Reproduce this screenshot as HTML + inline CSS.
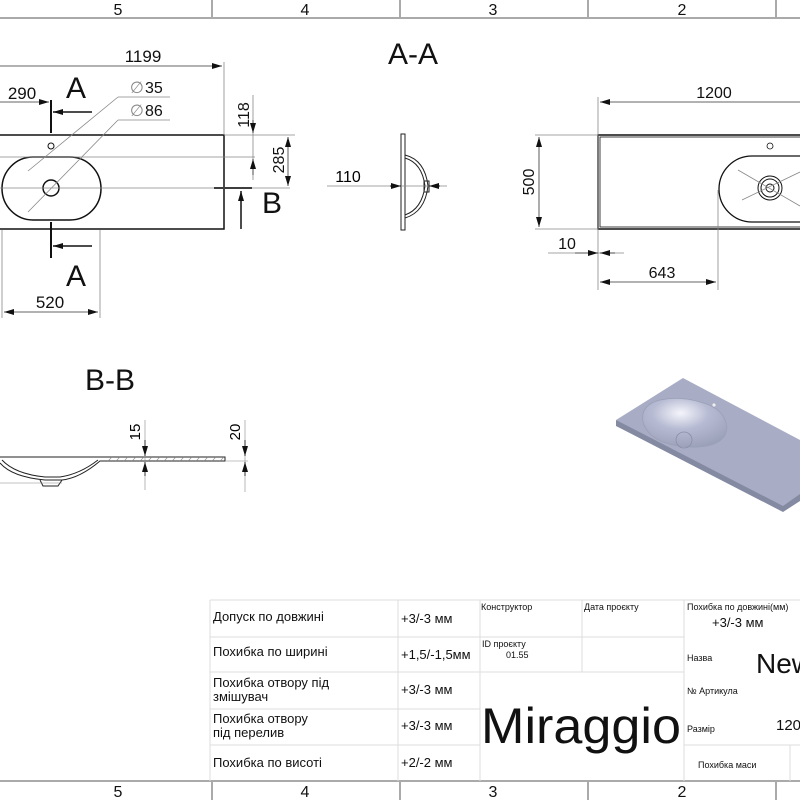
<!DOCTYPE html>
<html><head><meta charset="utf-8"><style>
body{margin:0;background:#fff}
svg{display:block}
text{font-family:"Liberation Sans","DejaVu Sans",sans-serif}
.t{font-family:"DejaVu Sans Condensed","Liberation Sans",sans-serif}
</style></head><body>
<svg width="800" height="800" viewBox="0 0 800 800" xmlns="http://www.w3.org/2000/svg">
<defs>
<marker id="a" viewBox="0 0 10 6" refX="10" refY="3" markerWidth="10" markerHeight="6" orient="auto-start-reverse" markerUnits="userSpaceOnUse"><path d="M0,0L10,3L0,6z" fill="#111"/></marker>
</defs>
<g stroke="#aaa" stroke-width="2" fill="none">
<line x1="0" y1="18" x2="800" y2="18"/><line x1="0" y1="781" x2="800" y2="781"/>
<line x1="212" y1="0" x2="212" y2="18"/><line x1="400" y1="0" x2="400" y2="18"/><line x1="588" y1="0" x2="588" y2="18"/><line x1="776" y1="0" x2="776" y2="18"/>
<line x1="212" y1="781" x2="212" y2="800"/><line x1="400" y1="781" x2="400" y2="800"/><line x1="588" y1="781" x2="588" y2="800"/><line x1="776" y1="781" x2="776" y2="800"/>
</g>
<g font-size="16" text-anchor="middle" fill="#111">
<text x="118" y="15">5</text><text x="305" y="15">4</text><text x="493" y="15">3</text><text x="682" y="15">2</text>
<text x="118" y="797">5</text><text x="305" y="797">4</text><text x="493" y="797">3</text><text x="682" y="797">2</text>
</g>
<g fill="none" stroke="#111" stroke-width="1.5">
<rect x="-2" y="135" width="226" height="94"/>
<path d="M33,157 H70 A31,31.5 0 0 1 70,220 H33 A31,31.5 0 0 1 33,157z"/>
<circle cx="51" cy="188" r="8"/>
<circle cx="51" cy="146" r="3" stroke-width="1"/>
<line x1="51" y1="100" x2="51" y2="133" stroke-width="2"/>
<line x1="51" y1="222" x2="51" y2="258" stroke-width="2"/>
<line x1="214" y1="188" x2="252" y2="188" stroke-width="2"/>
</g>
<g stroke="#111" stroke-width="1.5">
<line x1="92" y1="112" x2="53" y2="112" marker-end="url(#a)"/>
<line x1="92" y1="246" x2="53" y2="246" marker-end="url(#a)"/>
<line x1="241" y1="229" x2="241" y2="191" marker-end="url(#a)"/>
</g>
<g stroke="#888" stroke-width="0.8" fill="none">
<line x1="0" y1="188" x2="290" y2="188"/><line x1="0" y1="157" x2="255" y2="157"/>
<line x1="224" y1="62" x2="224" y2="135"/>
<line x1="100" y1="230" x2="100" y2="318"/><line x1="2" y1="230" x2="2" y2="318"/>
<line x1="224" y1="135" x2="295" y2="135"/>
<line x1="28" y1="171" x2="118" y2="97"/><line x1="118" y1="97" x2="170" y2="97"/>
<line x1="28" y1="212" x2="118" y2="120"/><line x1="118" y1="120" x2="170" y2="120"/>
<line x1="253" y1="95" x2="253" y2="180"/>
</g>
<g stroke="#333" stroke-width="0.8">
<line x1="0" y1="66" x2="222" y2="66" marker-end="url(#a)"/>
<line x1="0" y1="102" x2="49" y2="102" marker-end="url(#a)"/>
<line x1="4" y1="312" x2="98" y2="312" marker-start="url(#a)" marker-end="url(#a)"/>
<line x1="253" y1="120" x2="253" y2="133" marker-end="url(#a)"/>
<line x1="253" y1="175" x2="253" y2="159" marker-end="url(#a)"/>
<line x1="288" y1="137" x2="288" y2="186" marker-start="url(#a)" marker-end="url(#a)"/>
</g>
<g fill="#111">
<text x="143" y="62" font-size="17" text-anchor="middle">1199</text>
<text x="22" y="99" font-size="17" text-anchor="middle">290</text>
<text x="76" y="98" font-size="30" text-anchor="middle">A</text>
<text x="76" y="286" font-size="30" text-anchor="middle">A</text>
<text x="50" y="308" font-size="17" text-anchor="middle">520</text>
<text x="262" y="213" font-size="30">B</text>
<text x="130" y="93" font-size="16" fill="#888">∅</text><text x="145" y="93" font-size="16">35</text>
<text x="130" y="116" font-size="16" fill="#888">∅</text><text x="145" y="116" font-size="16">86</text>
<text transform="translate(249,115) rotate(-90)" font-size="16" text-anchor="middle">118</text>
<text transform="translate(284,160) rotate(-90)" font-size="16" text-anchor="middle">285</text>
</g>
<text x="413" y="64" font-size="30" text-anchor="middle" fill="#111">A-A</text>
<g fill="none" stroke="#222" stroke-width="1">
<rect x="401" y="134" width="4" height="96"/>
<path d="M405,155 Q425,160 428,186 Q425,212 405,218"/>
<path d="M405,158 Q422,163 425,186 Q422,209 405,215"/>
<rect x="424" y="181" width="5" height="11"/>
</g>
<line x1="327" y1="186" x2="447" y2="186" stroke="#888" stroke-width="0.8"/>
<line x1="390" y1="186" x2="401" y2="186" stroke="#111" marker-end="url(#a)"/>
<line x1="440" y1="186" x2="429" y2="186" stroke="#111" marker-end="url(#a)"/>
<text x="348" y="182" font-size="16" text-anchor="middle">110</text>
<g fill="none" stroke="#111">
<rect x="598" y="135" width="210" height="94" stroke-width="1.5"/>
<rect x="600" y="137" width="208" height="90" stroke-width="0.8"/>
<path d="M752,156 H810 V222 H752 A33,33 0 0 1 752,156z" stroke-width="1.3"/>
<circle cx="770" cy="146" r="3" stroke-width="0.8"/>
<circle cx="770" cy="188" r="12" stroke-width="1"/><circle cx="770" cy="188" r="9" stroke-width="1"/><circle cx="770" cy="188" r="4" stroke-width="1"/>
</g>
<g stroke="#888" stroke-width="0.8">
<line x1="598" y1="97" x2="598" y2="290"/><line x1="718" y1="190" x2="718" y2="290"/>
<line x1="535" y1="135" x2="598" y2="135"/><line x1="535" y1="229" x2="598" y2="229"/>
<line x1="548" y1="253" x2="624" y2="253"/>
<line x1="738" y1="170" x2="800" y2="206"/><line x1="742" y1="200" x2="800" y2="172"/>
</g>
<g stroke="#333" stroke-width="0.8">
<line x1="800" y1="102" x2="600" y2="102" marker-end="url(#a)"/>
<line x1="539" y1="137" x2="539" y2="227" marker-start="url(#a)" marker-end="url(#a)"/>
<line x1="575" y1="253" x2="598" y2="253" marker-end="url(#a)"/>
<line x1="615" y1="253" x2="600" y2="253" marker-end="url(#a)"/>
<line x1="600" y1="282" x2="716" y2="282" marker-start="url(#a)" marker-end="url(#a)"/>
</g>
<g fill="#111" font-size="16" text-anchor="middle">
<text x="714" y="98">1200</text>
<text transform="translate(534,182) rotate(-90)">500</text>
<text x="567" y="249">10</text>
<text x="662" y="278">643</text>
</g>
<text x="110" y="390" font-size="30" text-anchor="middle" fill="#111">B-B</text>
<g fill="none" stroke="#222" stroke-width="1">
<path d="M0,457 H225 V461 H100 Q80,478 62,480 L45,480 Q12,477 0,463"/>
<path d="M2,460 Q15,474 45,477 L60,477 Q80,474 98,460"/>
<path d="M40,480 L43,486 L58,486 L62,480"/>
</g>
<g stroke="#888" stroke-width="0.6">
<line x1="0" y1="483" x2="62" y2="483"/>
<line x1="145" y1="420" x2="145" y2="490"/><line x1="245" y1="420" x2="245" y2="492"/>
<line x1="225" y1="461" x2="248" y2="461"/>
<path d="M108,461l4-4M116,461l4-4M124,461l4-4M132,461l4-4M140,461l4-4M148,461l4-4M156,461l4-4M164,461l4-4M172,461l4-4M180,461l4-4M188,461l4-4M196,461l4-4M204,461l4-4M212,461l4-4M220,461l4-4"/>
</g>
<g stroke="#111" stroke-width="0.8">
<line x1="145" y1="440" x2="145" y2="456" marker-end="url(#a)"/>
<line x1="145" y1="476" x2="145" y2="462" marker-end="url(#a)"/>
<line x1="245" y1="440" x2="245" y2="456" marker-end="url(#a)"/>
<line x1="245" y1="476" x2="245" y2="462" marker-end="url(#a)"/>
</g>
<text transform="translate(140,432) rotate(-90)" font-size="15" text-anchor="middle">15</text>
<text transform="translate(240,432) rotate(-90)" font-size="15" text-anchor="middle">20</text>
<defs><radialGradient id="g" cx="0.45" cy="0.3" r="0.75"><stop offset="0" stop-color="#f4f5fb"/><stop offset="0.45" stop-color="#b6bad2"/><stop offset="1" stop-color="#9a9fb8"/></radialGradient></defs>
<polygon points="616,426 783,512 800,501 800,490 616,420" fill="#858aa3"/>
<polygon points="616,420 683,378 800,440 800,494 783,506" fill="#a8acc5"/>
<path d="M660,400 Q640,405 643,422 Q650,445 690,447 Q725,448 727,428 Q725,408 700,402 Q680,396 660,400z" fill="url(#g)" stroke="#9aa0b8" stroke-width="0.8"/>
<circle cx="684" cy="440" r="8" fill="none" stroke="#8a8fa8" stroke-width="0.8"/>
<circle cx="714" cy="405" r="1.6" fill="#eee"/>
<g stroke="#ddd" stroke-width="1" fill="none">
<line x1="210" y1="600" x2="800" y2="600"/>
<line x1="210" y1="637" x2="480" y2="637"/><line x1="210" y1="672" x2="480" y2="672"/>
<line x1="210" y1="709" x2="480" y2="709"/><line x1="210" y1="745" x2="480" y2="745"/>
<line x1="480" y1="637" x2="684" y2="637"/><line x1="480" y1="672" x2="684" y2="672"/>
<line x1="210" y1="600" x2="210" y2="781"/><line x1="398" y1="600" x2="398" y2="781"/>
<line x1="480" y1="600" x2="480" y2="781"/><line x1="582" y1="600" x2="582" y2="672"/>
<line x1="684" y1="600" x2="684" y2="781"/><line x1="790" y1="745" x2="790" y2="781"/>
<line x1="684" y1="745" x2="800" y2="745"/>
</g>
<g class="t" fill="#111" font-size="13">
<text x="213" y="621">Допуск по довжині</text>
<text x="213" y="656">Похибка по ширині</text>
<text x="213" y="687">Похибка отвору під</text><text x="213" y="701">змішувач</text>
<text x="213" y="723">Похибка отвору</text><text x="213" y="737">під перелив</text>
<text x="213" y="767">Похибка по висоті</text>
<text x="401" y="623">+3/-3 мм</text>
<text x="401" y="659">+1,5/-1,5мм</text>
<text x="401" y="694">+3/-3 мм</text>
<text x="401" y="730">+3/-3 мм</text>
<text x="401" y="767">+2/-2 мм</text>
<text x="481" y="610" font-size="9">Конструктор</text>
<text x="584" y="610" font-size="9">Дата проєкту</text>
<text x="482" y="647" font-size="9">ID проєкту</text>
<text x="506" y="658" font-size="9">01.55</text>
<text x="687" y="610" font-size="9">Похибка по довжині(мм)</text>
<text x="712" y="627">+3/-3 мм</text>
<text x="687" y="661" font-size="9">Назва</text>
<text x="756" y="673" font-size="28">New</text>
<text x="687" y="694" font-size="9">№ Артикула</text>
<text x="687" y="732" font-size="9">Размір</text>
<text x="776" y="730" font-size="15">120</text>
<text x="698" y="768" font-size="9">Похибка маси</text>
<text x="481" y="743" font-size="50" textLength="200" lengthAdjust="spacingAndGlyphs">Miraggio</text>
</g>
</svg>
</body></html>
